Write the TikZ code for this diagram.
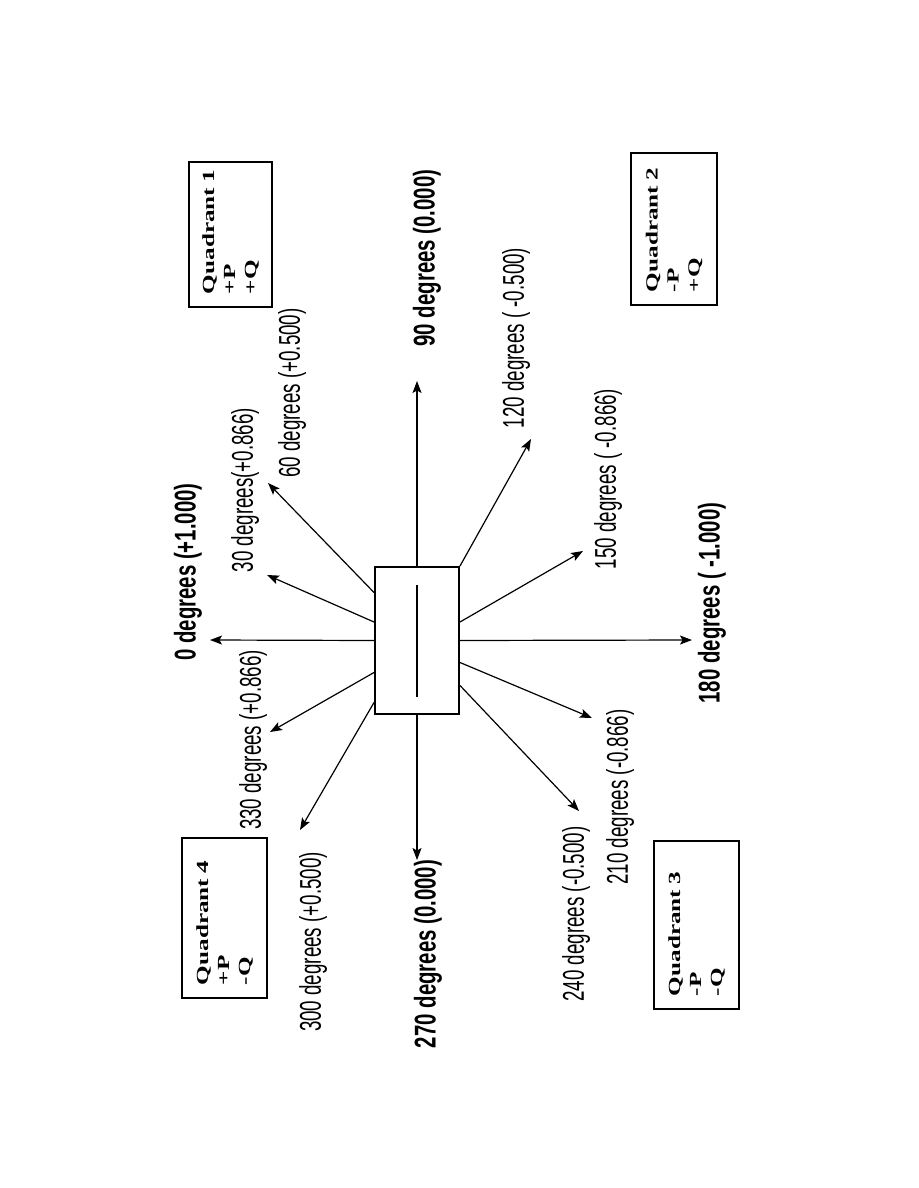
\documentclass[tikz,border=0pt]{standalone}
\usepackage{fontspec}
\setmainfont{Liberation Serif}
\newfontfamily\lblfont{Liberation Sans}
\newfontfamily\quadfont[FakeStretch=1.48]{Liberation Serif}
\usetikzlibrary{arrows.meta,calc}

\begin{document}
\begin{tikzpicture}[x=1pt, y=-1pt,
  arr/.style={-{Stealth[length=12pt,width=9pt,inset=2.5pt]}, line width=1.2pt},
  lbl/.style={rotate=90, xscale=.625, inner sep=0pt, font=\lblfont\fontsize{30}{36}\selectfont},
  blbl/.style={rotate=90, xscale=.68, inner sep=0pt, font=\lblfont\bfseries\fontsize{30}{36}\selectfont},
  quad/.style={draw, line width=2pt, rotate=90, align=left, inner xsep=13pt, inner ysep=0pt, font=\quadfont\bfseries\fontsize{17}{21}\selectfont}]
\useasboundingbox (0,0) rectangle (918,1188);

% centre box
\node[draw, line width=2pt, minimum width=84pt, minimum height=147pt, inner sep=0pt] (box) at (417,640.5) {};
\draw[line width=2.5pt] ($(box.center)+(0,-56)$) -- ($(box.center)+(0,56)$);

% arrow tips
\coordinate (t0) at (210,640);
\coordinate (t30) at (267,575);
\coordinate (t60) at (268,483);
\coordinate (t90) at (417,381);
\coordinate (t120) at (531,439);
\coordinate (t150) at (583,551);
\coordinate (t180) at (692,640);
\coordinate (t210) at (592,718);
\coordinate (t240) at (579,811);
\coordinate (t270) at (417,860);
\coordinate (t300) at (300,830);
\coordinate (t330) at (270,732);

\foreach \a/\dy/\t in {west/0/t0, west/-18.5/t30, west/-48/t60, north/0/t90, north east/0/t120, east/-18.5/t150, east/0/t180, east/22/t210, east/45/t240, south/0/t270, west/62/t300, west/32/t330}{\draw[arr] ($(box.\a)+(0,\dy)$) -- (\t);}

% angle labels
\node[blbl] (l0) at (188,572) {0 degrees (+1.000)};
\node[lbl] (l30) at (245,490) {30 degrees(+0.866)};
\node[lbl] (l60) at (292,393) {60 degrees (+0.500)};
\node[blbl] (l90) at (427,258) {90 degrees (0.000)};
\node[lbl] (l120) at (516,338) {120 degrees ( -0.500)};
\node[lbl] (l150) at (608,479) {150 degrees ( -0.866)};
\node[blbl] (l180) at (712,603) {180 degrees ( -1.000)};
\node[lbl] (l210) at (620,797) {210 degrees (-0.866)};
\node[lbl] (l240) at (576,914) {240 degrees (-0.500)};
\node[blbl] (l270) at (428,954) {270 degrees (0.000)};
\node[lbl] (l300) at (313,942) {300 degrees (+0.500)};
\node[lbl] (l330) at (253,740) {330 degrees (+0.866)};

% quadrants
\node[quad, minimum width=145pt, minimum height=83pt, text width=119pt] (q1) at (230.5,234.5) {Quadrant~1\\+P\\+Q};
\node[quad, minimum width=152pt, minimum height=86pt, text width=126pt] (q2) at (674,229) {Quadrant~2\\-P\\+Q};
\node[quad, minimum width=168pt, minimum height=85pt, text width=142pt] (q3) at (696.5,925) {Quadrant~3\\-P\\-Q};
\node[quad, minimum width=160pt, minimum height=85pt, text width=134pt] (q4) at (224.5,918) {Quadrant~4\\+P\\-Q};
\end{tikzpicture}
\end{document}
